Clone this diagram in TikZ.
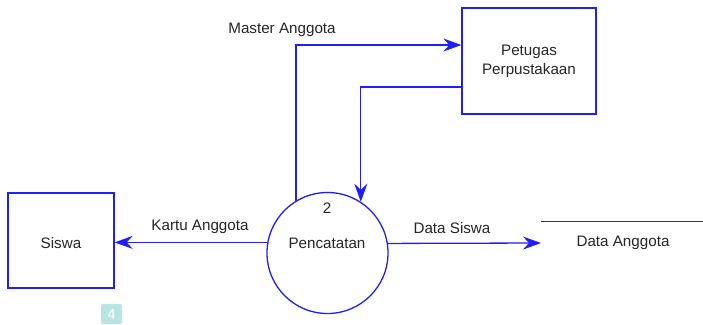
\documentclass[tikz,border=0pt]{standalone}
\usepackage{fontspec}
\setmainfont{Liberation Sans}
\usetikzlibrary{arrows.meta}
\definecolor{dfdblue}{RGB}{30,30,255}
\definecolor{badge}{RGB}{185,228,228}
\begin{document}
\begin{tikzpicture}[x=1pt,y=-1pt,
  flow/.style={draw=dfdblue,line width=1.3pt},
  arr/.style={flow,-{Stealth[length=18pt,width=13pt,inset=6pt]}},
  ent/.style={draw=dfdblue,line width=1.3pt,rectangle,inner sep=0pt},
  lbl/.style={font=\fontsize{15.2}{19}\selectfont,text=black!85,inner sep=0pt}]
\useasboundingbox[fill=white] (0,0) rectangle (703,324);
\node[ent,minimum width=106pt,minimum height=95pt] (siswa) at (61,240.5) {};
\node[lbl] (siswat) at (61,243) {Siswa};
\node[ent,minimum width=134pt,minimum height=106pt] (petugas) at (529,61) {};
\node[lbl,align=center] (petugast) at (529,61.5) {Petugas\\Perpustakaan};
\node[draw=dfdblue,line width=1.3pt,circle,minimum size=121pt,inner sep=0pt] (proc) at (327.5,253) {};
\node[lbl] (num) at (327,208) {2};
\node[lbl] (proct) at (327,243) {Pencatatan};
\coordinate (ds) at (541,243);
\coordinate (storeA) at (541,221.7);
\coordinate (storeB) at (703,221.7);
\draw[flow] (storeA) -- (storeB);
\node[lbl] (storet) at (623,243) {Data Anggota};
\draw[arr] (proc.170.5) -- (siswa.east |- proc.170.5);
\draw[arr] (proc.9.5) -- (ds);
\draw[arr] (proc.121.4) |- ([yshift=16pt]petugas.west);
\draw[arr] ([yshift=-26pt]petugas.west) -| (proc.57.5);
\node[lbl] (l1) at (282,30) {Master Anggota};
\node[lbl] (l2) at (200,227) {Kartu Anggota};
\node[lbl] (l3) at (452,228) {Data Siswa};
\node[fill=badge,rounded corners=2pt,minimum width=21pt,minimum height=20pt,inner sep=0pt,text=white,font=\fontsize{15}{17}\selectfont] (b4) at (111.5,314) {4};
\end{tikzpicture}
\end{document}
